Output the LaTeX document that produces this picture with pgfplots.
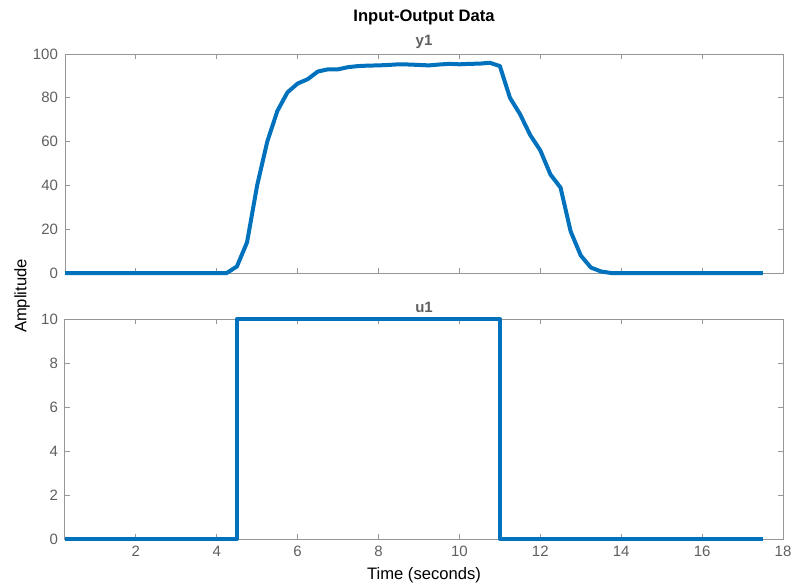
\documentclass[border=0pt]{standalone}
\usepackage{pgfplots}
\pgfplotsset{compat=1.18}
\usepackage{fontspec}
\setmainfont{Liberation Sans}
\definecolor{mblue}{RGB}{0,114,189}
\definecolor{axgray}{RGB}{150,150,150}
\definecolor{txtgray}{RGB}{95,95,95}
\pgfplotsset{
  mystyle/.style={
    scale only axis, width=359pt, height=109.5pt,
    xmin=0.25, xmax=18,
    xtick={2,4,...,18},
    axis line style={axgray, line width=0.5pt},
    tick style={axgray, line width=0.5pt},
    major tick length=2.5pt,
    tick align=inside,
    ticklabel style={font=\fontsize{7.5}{9}\selectfont, text=txtgray},
    /pgf/number format/assume math mode=true,
    every axis title shift=0pt,
    title style={font=\bfseries\fontsize{7.5}{9}\selectfont, text=txtgray, at={(0.5,1)}, anchor=center, yshift=6pt},
    clip=false,
  },
  mline/.style={mblue, line width=2pt, no marks, line join=round},
}
\pgfplotstableread{
t y
0.25 0
0.5 0
0.75 0
1.0 0
1.25 0
1.5 0
1.75 0
2.0 0
2.25 0
2.5 0
2.75 0
3.0 0
3.25 0
3.5 0
3.75 0
4.0 0
4.25 0
4.5 3
4.75 14
5.0 40
5.25 60
5.5 74
5.75 82.5
6.0 86.5
6.25 88.5
6.5 92
6.75 93
7.0 93
7.25 94
7.5 94.5
7.75 94.7
8.0 94.8
8.25 95
8.5 95.3
8.75 95.2
9.0 95
9.25 94.8
9.5 95.2
9.75 95.5
10.0 95.3
10.25 95.5
10.5 95.6
10.75 96
11.0 94.5
11.25 80
11.5 72.5
11.75 63
12.0 56
12.25 45
12.5 39
12.75 19
13.0 8
13.25 2.5
13.5 0.7
13.75 0
14.0 0
14.25 0
14.5 0
14.75 0
15.0 0
15.25 0
15.5 0
15.75 0
16.0 0
16.25 0
16.5 0
16.75 0
17.0 0
17.25 0
17.5 0
}\yone
\begin{document}
\begin{tikzpicture}
\useasboundingbox (0,0) rectangle (397.5pt,-292pt);
\node[font=\bfseries\fontsize{8.3}{10}\selectfont] at (212pt,-8.5pt) {Input-Output Data};
\node[font=\fontsize{8.3}{10}\selectfont, rotate=90] at (11pt,-148pt) {Amplitude};
\begin{axis}[mystyle, at={(32.5pt,-27pt)}, anchor=north west,
  ymin=0, ymax=100, ytick={0,20,...,100}, xticklabels={}, title={y1}]
\addplot[mline] table[x=t,y=y] {\yone};
\end{axis}
\begin{axis}[mystyle, at={(32.5pt,-159.5pt)}, anchor=north west, height=110pt,
  ymin=0, ymax=10, ytick={0,2,...,10}, title={u1},
  xlabel={Time (seconds)},
  xlabel style={font=\fontsize{8.3}{10}\selectfont, text=black, at={(axis description cs:0.5,0)}, anchor=center, yshift=-18pt}]
\addplot[mline, const plot] coordinates {(0.25,0) (4.5,10) (11,0) (17.5,0)};
\end{axis}
\end{tikzpicture}
\end{document}
